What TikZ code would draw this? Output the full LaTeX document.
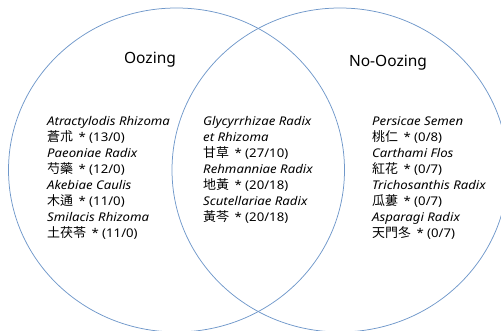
\documentclass[tikz,border=0pt]{standalone}
\usepackage{fontspec}
\setmainfont{Noto Sans}
\newfontfamily\herbfont{Noto Sans}[FakeStretch=1.1]
\newfontfamily\cjk[Scale=1.08]{Noto Sans CJK KR}
\usetikzlibrary{shapes.geometric}
\definecolor{ringblue}{RGB}{112,152,202}
\tikzset{
  ring/.style={ellipse, draw=ringblue, line width=0.75pt, minimum width=336pt, minimum height=324pt, inner sep=0pt},
  title/.style={font=\fontsize{15.5}{18}\selectfont, inner sep=0pt},
  herbs/.style={align=left, anchor=north west, inner sep=0pt, font=\herbfont\fontsize{12}{16}\selectfont}
}
\newcommand{\lat}[1]{\textit{#1}}
\newcommand{\hj}[1]{{\cjk #1}\,}
\begin{document}
\begin{tikzpicture}[x=1pt,y=-1pt]
\useasboundingbox (0,0) rectangle (501,331);
\node[ring] (oozing) at (176.5,170) {};
\node[ring] (nooozing) at (340,170) {};
\node[title] (t1) at (150,60) {Oozing};
\node[title] (t2) at (388,63) {No-Oozing};
\node[herbs] (left) at (47,116.5) {\lat{Atractylodis Rhizoma}\\ \hj{蒼朮} * (13/0)\\ \lat{Paeoniae Radix}\\ \hj{芍藥} * (12/0)\\ \lat{Akebiae Caulis}\\ \hj{木通} * (11/0)\\ \lat{Smilacis Rhizoma}\\ \hj{土茯苓} * (11/0)};
\node[herbs] (mid) at (203,116.5) {\lat{Glycyrrhizae Radix}\\ \lat{et Rhizoma}\\ \hj{甘草} * (27/10)\\ \lat{Rehmanniae Radix}\\ \hj{地黃} * (20/18)\\ \lat{Scutellariae Radix}\\ \hj{黃芩} * (20/18)};
\node[herbs] (right) at (372,116.5) {\lat{Persicae Semen}\\ \hj{桃仁} * (0/8)\\ \lat{Carthami Flos}\\ \hj{紅花} * (0/7)\\ \lat{Trichosanthis Radix}\\ \hj{瓜蔞} * (0/7)\\ \lat{Asparagi Radix}\\ \hj{天門冬} * (0/7)};
\end{tikzpicture}
\end{document}
